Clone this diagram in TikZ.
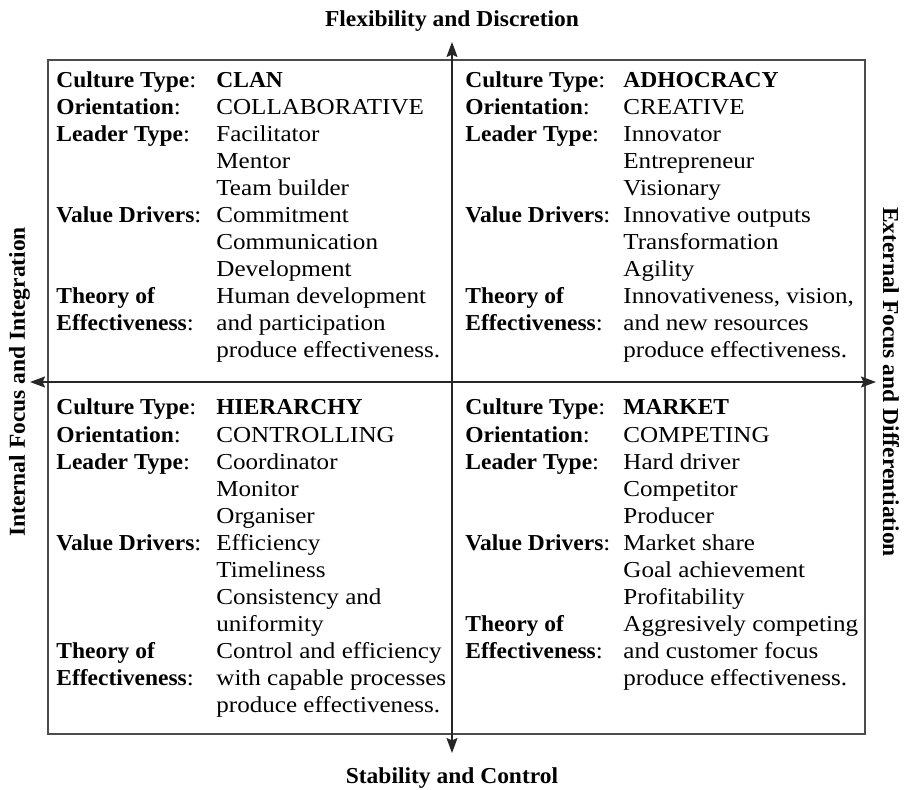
\documentclass[tikz,border=0pt]{standalone}
\usepackage{fontspec}
\setmainfont{Liberation Serif}[FakeStretch=1.1]
\newfontfamily\hbfam{Liberation Serif}[FakeStretch=1.03]
\newcommand{\B}[1]{{\hbfam\bfseries #1}}
\usepackage{array}
\usetikzlibrary{arrows.meta}
\begin{document}
\begin{tikzpicture}[x=0.5pt,y=-0.5pt,
  axis/.style={draw=black!85, line width=0.75pt,
    {Stealth[length=7.5pt,width=5.5pt,inset=1.2pt]}-{Stealth[length=7.5pt,width=5.5pt,inset=1.2pt]}},
  frame/.style={draw=black!70, line width=0.75pt},
  quad/.style={anchor=base west, inner sep=0pt, align=left,
    font=\fontsize{11.4pt}{13.5pt}\selectfont},
  axislabel/.style={inner sep=0pt, anchor=base,
    font=\fontsize{11.4pt}{13.5pt}\selectfont\hbfam\bfseries}]
\useasboundingbox (0,0) rectangle (908,790);
\draw[frame] (48,60) rectangle (865,734);
\coordinate (ttip) at (452,42);
\coordinate (btip) at (452,753);
\coordinate (ltip) at (30,382);
\coordinate (rtip) at (876,382);
\draw[axis] (ttip) -- (btip);
\draw[axis] (ltip) -- (rtip);
\node[axislabel] (tlab) at (452,27) {Flexibility and Discretion};
\node[axislabel] (blab) at (452,783) {Stability and Control};
\node[axislabel, rotate=90] (llab) at (25,382) {Internal Focus and Integration};
\node[axislabel, rotate=-90] (rlab) at (883,382) {External Focus and Differentiation};
\node[quad] (clan) at (56,88) {%
\begin{tabular}[t]{@{}w{l}{80pt}@{}l@{}}
\B{Culture Type}: & \B{CLAN}\\
\B{Orientation}: & COLLABORATIVE\\
\B{Leader Type}: & Facilitator\\
 & Mentor\\
 & Team builder\\
\B{Value Drivers}: & Commitment\\
 & Communication\\
 & Development\\
\B{Theory of} & Human development\\
\B{Effectiveness}: & and participation\\
 & produce effectiveness.
\end{tabular}};
\node[quad] (adho) at (465,88) {%
\begin{tabular}[t]{@{}w{l}{79pt}@{}l@{}}
\B{Culture Type}: & \B{ADHOCRACY}\\
\B{Orientation}: & CREATIVE\\
\B{Leader Type}: & Innovator\\
 & Entrepreneur\\
 & Visionary\\
\B{Value Drivers}: & Innovative outputs\\
 & Transformation\\
 & Agility\\
\B{Theory of} & Innovativeness, vision,\\
\B{Effectiveness}: & and new resources\\
 & produce effectiveness.
\end{tabular}};
\node[quad] (hier) at (56,415) {%
\begin{tabular}[t]{@{}w{l}{80pt}@{}l@{}}
\B{Culture Type}: & \B{HIERARCHY}\\
\B{Orientation}: & CONTROLLING\\
\B{Leader Type}: & Coordinator\\
 & Monitor\\
 & Organiser\\
\B{Value Drivers}: & Efficiency\\
 & Timeliness\\
 & Consistency and\\
 & uniformity\\
\B{Theory of} & Control and efficiency\\
\B{Effectiveness}: & with capable processes\\
 & produce effectiveness.
\end{tabular}};
\node[quad] (mark) at (465,415) {%
\begin{tabular}[t]{@{}w{l}{79pt}@{}l@{}}
\B{Culture Type}: & \B{MARKET}\\
\B{Orientation}: & COMPETING\\
\B{Leader Type}: & Hard driver\\
 & Competitor\\
 & Producer\\
\B{Value Drivers}: & Market share\\
 & Goal achievement\\
 & Profitability\\
\B{Theory of} & Aggresively competing\\
\B{Effectiveness}: & and customer focus\\
 & produce effectiveness.
\end{tabular}};
\end{tikzpicture}
\end{document}
